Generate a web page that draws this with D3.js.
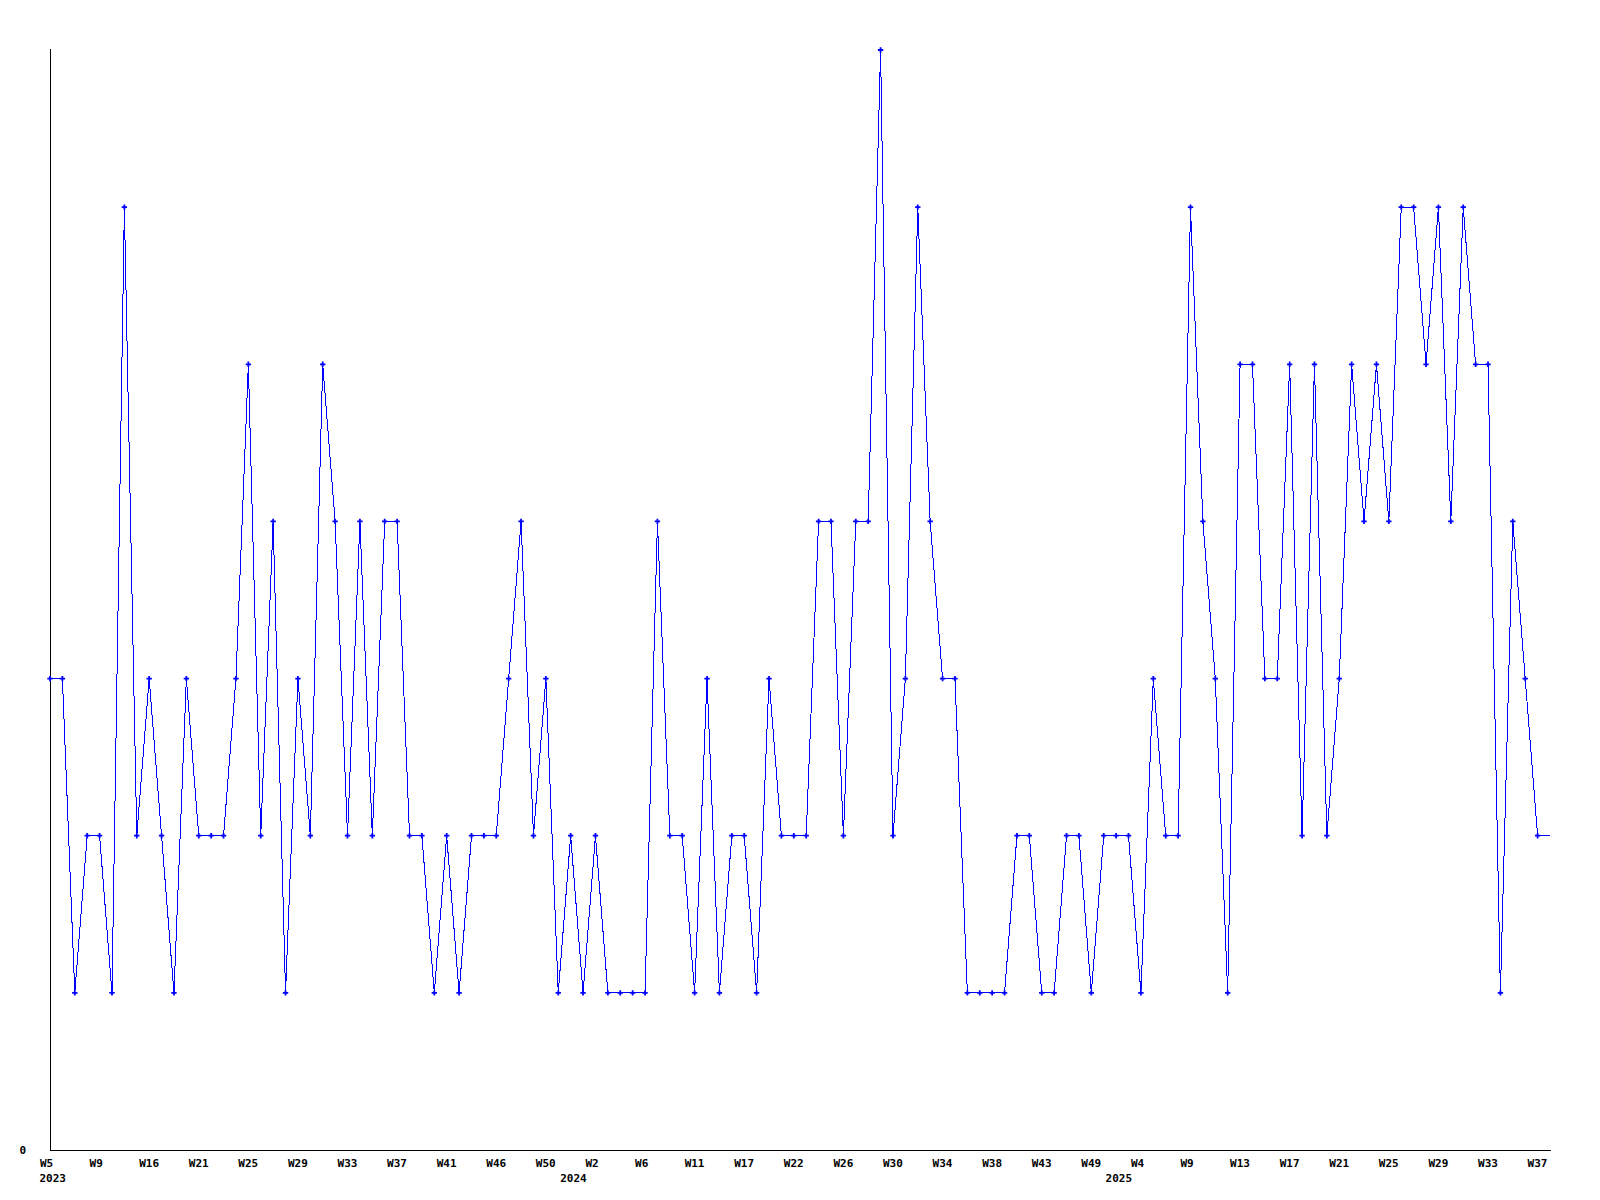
<!DOCTYPE html>
<html lang="en">
<head>
  <meta charset="UTF-8">
  <script src="https://d3js.org/d3.v7.min.js"></script>
  <title>Weekly chart</title>
  <style>
    body { margin: 0; background: #fff; }
    svg text {
      font-family: "DejaVu Sans Mono", monospace;
      font-weight: bold;
      font-size: 11px;
      fill: #000;
    }
    .line { fill: none; stroke: #0000ff; stroke-width: 1px; }
    .dot { fill: #0000ff; }
    .frame { stroke: #000; stroke-width: 1px; }
  </style>
</head>
<body>
  <svg></svg>
  <script>
    // one value per week that had data (empty weeks are skipped)
    const values = [
      3, 3, 1, 2, 2, 1, 6, 2, 3, 2,
      1, 3, 2, 2, 2, 3, 5, 2, 4, 1,
      3, 2, 5, 4, 2, 4, 2, 4, 4, 2,
      2, 1, 2, 1, 2, 2, 2, 3, 4, 2,
      3, 1, 2, 1, 2, 1, 1, 1, 1, 4,
      2, 2, 1, 3, 1, 2, 2, 1, 3, 2,
      2, 2, 4, 4, 2, 4, 4, 7, 2, 3,
      6, 4, 3, 3, 1, 1, 1, 1, 2, 2,
      1, 1, 2, 2, 1, 2, 2, 2, 1, 3,
      2, 2, 6, 4, 3, 1, 5, 5, 3, 3,
      5, 2, 5, 2, 3, 5, 4, 5, 4, 6,
      6, 5, 6, 4, 6, 5, 5, 1, 4, 3,
      2, 2
    ];
    // last entry is the running week, drawn without a marker
    const weekLabels = ['W5', 'W9', 'W16', 'W21', 'W25', 'W29', 'W33', 'W37', 'W41', 'W46', 'W50',
      'W2', 'W6', 'W11', 'W17', 'W22', 'W26', 'W30', 'W34', 'W38', 'W43', 'W49',
      'W4', 'W9', 'W13', 'W17', 'W21', 'W25', 'W29', 'W33', 'W37'];
    const labelEvery = 4;
    const years = ['2023', '2024', '2025'];
    const yearStart = [0, 42, 86];
    const yMax = 7;

    const WIDTH = 1600;
    const HEIGHT = 1200;
    const M = { left: 50, right: 1550, top: 50, bottom: 1150 };

    const svg = d3.select('svg')
      .attr('width', WIDTH)
      .attr('height', HEIGHT);

    const x = d3.scaleLinear().domain([0, values.length - 1]).range([M.left, M.right]);
    const y = d3.scaleLinear().domain([0, yMax]).range([M.bottom, M.top]);

    // frame
    svg.append('line').attr('class', 'frame')
      .attr('x1', M.left + 0.5).attr('x2', M.left + 0.5)
      .attr('y1', M.top - 1).attr('y2', M.bottom + 0.5)
      .attr('shape-rendering', 'crispEdges');
    svg.append('line').attr('class', 'frame')
      .attr('x1', M.left).attr('x2', M.right + 1)
      .attr('y1', M.bottom + 0.5).attr('y2', M.bottom + 0.5)
      .attr('shape-rendering', 'crispEdges');

    // week labels
    const tickIdx = weekLabels.map((d, i) => i * labelEvery);
    const xAxis = svg.append('g')
      .attr('transform', `translate(0,${M.bottom})`)
      .call(d3.axisBottom(x).tickValues(tickIdx).tickSize(0)
        .tickFormat((d, i) => weekLabels[i]));
    xAxis.select('.domain').remove();
    xAxis.selectAll('text')
      .attr('text-anchor', 'start')
      .attr('dx', -10.5)
      .attr('y', 17)
      .attr('dy', 0)
      .style('font-family', '"DejaVu Sans Mono", monospace')
      .style('font-size', '11px')
      .style('font-weight', 'bold');

    // year labels
    svg.append('g').selectAll('text')
      .data(years)
      .enter().append('text')
      .attr('x', (d, i) => x(yearStart[i]) - 10.5)
      .attr('y', M.bottom + 32)
      .text((d) => d);

    // y label
    const yAxis = svg.append('g')
      .attr('transform', `translate(${M.left},0)`)
      .call(d3.axisLeft(y).tickValues([0]).tickSize(0).tickFormat(d3.format('d')));
    yAxis.select('.domain').remove();
    yAxis.selectAll('text')
      .attr('x', -24)
      .attr('dy', '0.35em')
      .style('font-family', '"DejaVu Sans Mono", monospace')
      .style('font-size', '11px')
      .style('font-weight', 'bold');

    // data
    const line = d3.line()
      .x((d, i) => x(i))
      .y((d) => y(d));

    svg.append('path')
      .datum(values)
      .attr('class', 'line')
      .attr('shape-rendering', 'crispEdges')
      .attr('d', line);

    const symbol = d3.symbol().type(d3.symbolCross).size(16);
    svg.append('g').selectAll('path')
      .data(values.slice(0, values.length - 1))
      .enter().append('path')
      .attr('class', 'dot')
      .attr('transform', (d, i) => `translate(${x(i)},${y(d)})`)
      .attr('d', symbol);
  </script>
</body>
</html>
